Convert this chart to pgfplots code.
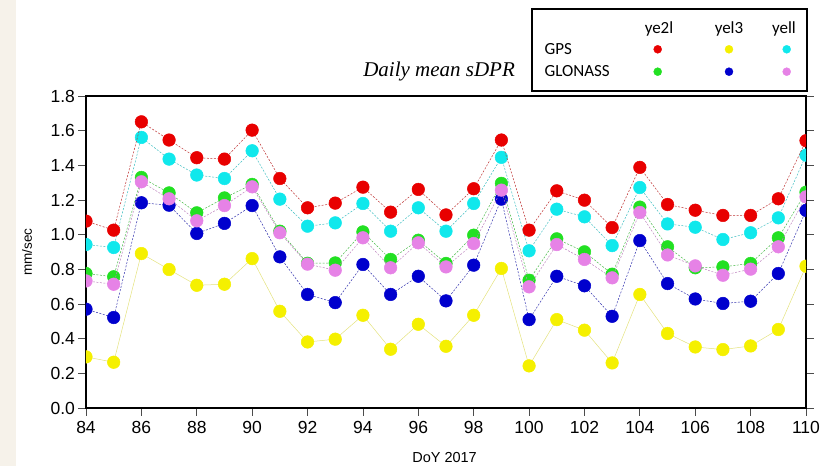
\documentclass[border=0pt]{standalone}
\usepackage{pgfplots}
\usepackage{pgfplotstable}
\usepackage{fontspec}
\pgfplotsset{compat=1.18}
\setmainfont{Liberation Sans}
\newfontfamily\titlefont{Liberation Serif}
\newfontfamily\legfont{Carlito}

\definecolor{cRed}{HTML}{E80000}
\definecolor{cYel}{HTML}{F5F000}
\definecolor{cCya}{HTML}{10E8EC}
\definecolor{cGrn}{HTML}{22E022}
\definecolor{cBlu}{HTML}{0000CD}
\definecolor{cPnk}{HTML}{E682E6}
\definecolor{bgbeige}{HTML}{F6F2EA}

% daily mean sDPR, mm/sec
\pgfplotstableread{
doy  gpsye2l gpsyel3 gpsyell glnye2l glnyel3 glnyell
84   1.078   0.295   0.943   0.776   0.570   0.733
85   1.026   0.264   0.926   0.757   0.522   0.714
86   1.651   0.891   1.561   1.330   1.184   1.305
87   1.546   0.799   1.436   1.241   1.170   1.207
88   1.444   0.708   1.344   1.126   1.007   1.080
89   1.436   0.714   1.324   1.212   1.065   1.168
90   1.603   0.862   1.484   1.290   1.168   1.276
91   1.324   0.558   1.205   1.020   0.872   1.011
92   1.155   0.381   1.049   0.835   0.655   0.830
93   1.182   0.397   1.068   0.837   0.608   0.795
94   1.274   0.535   1.180   1.016   0.828   0.982
95   1.130   0.339   1.020   0.857   0.655   0.809
96   1.261   0.483   1.155   0.968   0.760   0.953
97   1.114   0.356   1.020   0.834   0.618   0.814
98   1.265   0.535   1.180   0.997   0.824   0.949
99   1.546   0.805   1.446   1.296   1.205   1.257
100  1.026   0.243   0.907   0.737   0.510   0.699
101  1.253   0.510   1.147   0.976   0.760   0.943
102  1.199   0.449   1.103   0.901   0.705   0.857
103  1.041   0.260   0.937   0.772   0.529   0.751
104  1.388   0.655   1.272   1.159   0.966   1.128
105  1.174   0.430   1.062   0.930   0.718   0.883
106  1.141   0.352   1.043   0.809   0.629   0.820
107  1.111   0.337   0.972   0.814   0.603   0.766
108  1.111   0.358   1.011   0.834   0.616   0.801
109  1.207   0.453   1.097   0.982   0.776   0.930
110  1.542   0.818   1.459   1.245   1.140   1.218
}\sdpr

\begin{document}
\begin{tikzpicture}
\useasboundingbox (0,0) rectangle (820pt,466pt);
\fill[bgbeige] (0,0) rectangle (16pt,466pt);

\begin{axis}[
  at={(86pt,58pt)}, anchor=south west,
  width=720pt, height=312pt, scale only axis,
  xmin=84, xmax=110, ymin=0, ymax=1.8,
  clip marker paths=true,
  xtick={84,86,...,110},
  ytick={0,0.2,0.4,0.6,0.8,1.0,1.2,1.4,1.6,1.8},
  axis line style={line width=1.5pt},
  tick align=outside, xtick pos=bottom, ytick pos=both, yticklabel pos=left,
  major tick length=7.5pt,
  tick style={line width=0.8pt, black!70},
  ticklabel style={font=\fontsize{17.5}{17.5}\selectfont},
  xticklabel style={yshift=-2pt},
  /pgf/number format/assume math mode=true,
  yticklabel style={/pgf/number format/.cd, fixed, fixed zerofill, precision=1},
  xlabel={DoY 2017},
  xlabel style={at={(axis description cs:0.498,-0.176)}, anchor=base,
    font=\fontsize{14.5}{15}\selectfont},
  ylabel={mm/sec},
  ylabel style={at={(axis description cs:-0.0820,0.5)}, anchor=center,
    font=\fontsize{13.5}{14}\selectfont},
  title={Daily mean sDPR},
  title style={at={(axis description cs:0.596,1.0426)}, anchor=base east,
    inner sep=0pt, font=\titlefont\itshape\fontsize{21}{21}\selectfont},
  after end axis/.code={
    \draw[line width=2.4pt] (rel axis cs:0,1) -- (rel axis cs:1,1);
  },
  every axis plot/.append style={line width=0.5pt, dash pattern=on 2pt off 1.5pt,
    mark=*, mark size=6.3pt},
]
\addplot[color=cYel!70!gray!60, solid, mark options={cYel, solid}] table[x=doy, y=gpsyel3] {\sdpr};
\addplot[color=cCya!60!gray, mark options={cCya, solid}] table[x=doy, y=gpsyell] {\sdpr};
\addplot[color=cRed!60!gray, mark options={cRed, solid}] table[x=doy, y=gpsye2l] {\sdpr};
\addplot[color=cBlu!60!gray, mark options={cBlu, solid}] table[x=doy, y=glnyel3] {\sdpr};
\addplot[color=cGrn!60!gray, mark options={cGrn, solid}] table[x=doy, y=glnye2l] {\sdpr};
\addplot[color=cPnk!60!gray, mark options={cPnk, solid}] table[x=doy, y=glnyell] {\sdpr};
\end{axis}

% legend box
\begin{axis}[
  at={(531.7pt,375.3pt)}, anchor=south west,
  width=275pt, height=81.4pt, scale only axis,
  xmin=531.7, xmax=806.7, ymin=9.3, ymax=90.7, y dir=reverse,
  xtick=\empty, ytick=\empty, clip=false,
  axis line style={line width=2pt},
  every axis plot/.append style={only marks, mark=*, mark size=4pt},
  nodes={font=\legfont\fontsize{17}{17}\selectfont},
]
\addplot[cRed] coordinates {(657.7,49.3)};
\addplot[cYel] coordinates {(729,49.3)};
\addplot[cCya] coordinates {(786.7,49.3)};
\addplot[cGrn] coordinates {(657.7,71.7)};
\addplot[cBlu] coordinates {(729,71.7)};
\addplot[cPnk] coordinates {(786.7,71.7)};
\node[anchor=base west] at (axis cs:541,55) {GPS};
\node[anchor=base west] at (axis cs:541,76.7) {GLONASS};
\node[anchor=base] at (axis cs:659,34) {ye2l};
\node[anchor=base] at (axis cs:729,34) {yel3};
\node[anchor=base] at (axis cs:784,34) {yell};
\end{axis}
\end{tikzpicture}
\end{document}
